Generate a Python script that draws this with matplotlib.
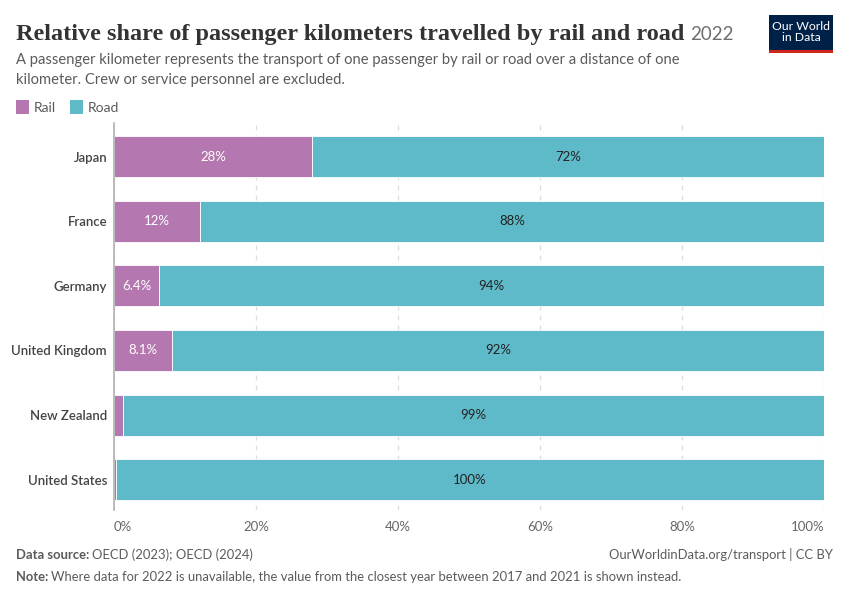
import matplotlib
matplotlib.use("Agg")
import matplotlib.pyplot as plt
from matplotlib.patches import Rectangle
from matplotlib.ticker import FuncFormatter

countries = ["Japan", "France", "Germany", "United Kingdom", "New Zealand", "United States"]
rail = [27.9, 12.1, 6.4, 8.1, 1.3, 0.3]
road = [72.1, 87.9, 93.6, 91.9, 98.7, 99.7]
xticks = [0, 20, 40, 60, 80, 100]

RAIL_C = "#b477af"
ROAD_C = "#5ebac8"
TXT = "#5b5b5b"

W, H = 850, 600
fig = plt.figure(figsize=(8.5, 6), dpi=100)

def fx(px): return px / W
def fy(py): return 1 - py / H

ax = fig.add_axes([fx(114), fy(510), fx(824) - fx(114), fy(123) - fy(510)])
ypos = list(range(len(countries)))
bh = 0.635
ax.barh(ypos, rail, height=bh, color=RAIL_C, edgecolor="white", linewidth=0.6, zorder=3)
ax.barh(ypos, road, left=rail, height=bh, color=ROAD_C, edgecolor="white", linewidth=0.6, zorder=3)

def fmt(v):
    if v < 9.95:
        return f"{v:.1f}%"
    return f"{round(v):d}%"

for i, (r, d) in enumerate(zip(rail, road)):
    if r >= 5:
        ax.text(r / 2, i, fmt(r), ha="center", va="center", color="white",
                fontsize=9.5, family="Lato", zorder=4)
    ax.text(r + d / 2, i, fmt(d), ha="center", va="center", color="#222222",
            fontsize=9.5, family="Lato", zorder=4)

ax.set_xlim(0, 100)
ax.set_ylim(5.47, -0.52)
ax.set_yticks(ypos)
ax.set_yticklabels(countries, family="Lato", fontsize=9.5, color="#444444", fontweight="semibold")
ax.set_xticks(xticks)
ax.xaxis.set_major_formatter(FuncFormatter(lambda v, p: f"{v:.0f}%"))
xl = ax.get_xticklabels()
for lab in xl:
    lab.set_family("Lato"); lab.set_fontsize(9.5); lab.set_color("#666666")
xl[0].set_horizontalalignment("left")
xl[-1].set_horizontalalignment("right")
ax.tick_params(axis="both", length=0)
ax.tick_params(axis="x", pad=8)
ax.tick_params(axis="y", pad=5)
ax.grid(axis="x", color="#dddddd", linestyle=(0, (4, 4)), linewidth=0.9, zorder=0)
for s in ["top", "right", "bottom"]:
    ax.spines[s].set_visible(False)
ax.spines["left"].set_color("#b0b0b0")
ax.spines["left"].set_linewidth(1.2)
ax.spines["left"].set_zorder(5)

# Title
t = fig.text(fx(16), fy(40), "Relative share of passenger kilometers travelled by rail and road",
             family="Liberation Serif", fontweight="bold", fontsize=17.5, color="#333333",
             va="baseline", ha="left")
fig.canvas.draw()
bb = t.get_window_extent(fig.canvas.get_renderer())
fig.text(bb.x1 / W + fx(6), fy(40), "2022", family="Lato", fontsize=13.5, color="#6e6e6e",
         va="baseline", ha="left")

fig.text(fx(16), fy(64), "A passenger kilometer represents the transport of one passenger by rail or road over a distance of one",
         family="Lato", fontsize=10.6, color=TXT, va="baseline")
fig.text(fx(16), fy(84), "kilometer. Crew or service personnel are excluded.",
         family="Lato", fontsize=10.6, color=TXT, va="baseline")

# Legend
fig.patches.append(Rectangle((fx(16), fy(114)), fx(13), fy(100) - fy(114), transform=fig.transFigure,
                             facecolor=RAIL_C, edgecolor="none"))
fig.text(fx(34), fy(107.5), "Rail", family="Lato", fontsize=10, color=TXT, va="center")
fig.patches.append(Rectangle((fx(70), fy(114)), fx(13), fy(100) - fy(114), transform=fig.transFigure,
                             facecolor=ROAD_C, edgecolor="none"))
fig.text(fx(88), fy(107.5), "Road", family="Lato", fontsize=10, color=TXT, va="center")

# Logo
fig.patches.append(Rectangle((fx(769), fy(52)), fx(64), fy(15) - fy(52), transform=fig.transFigure,
                             facecolor="#002147", edgecolor="none"))
fig.patches.append(Rectangle((fx(769), fy(53)), fx(64), fy(50) - fy(53), transform=fig.transFigure,
                             facecolor="#ce261e", edgecolor="none"))
fig.text(fx(801), fy(32), "Our World\nin Data", family="Lato", fontsize=8.8, color="white",
         ha="center", va="center", linespacing=1.0)

# Footer
FS = 9.4
t1 = fig.text(fx(16), fy(559), "Data source:", family="Lato", fontweight="bold", fontsize=FS,
              color=TXT, va="baseline")
fig.canvas.draw()
b1 = t1.get_window_extent(fig.canvas.get_renderer())
fig.text(b1.x1 / W + fx(3), fy(559), "OECD (2023); OECD (2024)", family="Lato", fontsize=FS,
         color=TXT, va="baseline")
fig.text(fx(833), fy(559), "OurWorldinData.org/transport | CC BY", family="Lato", fontsize=FS,
         color=TXT, va="baseline", ha="right")
t2 = fig.text(fx(16), fy(581), "Note:", family="Lato", fontweight="bold", fontsize=FS,
              color=TXT, va="baseline")
fig.canvas.draw()
b2 = t2.get_window_extent(fig.canvas.get_renderer())
fig.text(b2.x1 / W + fx(3), fy(581),
         "Where data for 2022 is unavailable, the value from the closest year between 2017 and 2021 is shown instead.",
         family="Lato", fontsize=FS, color=TXT, va="baseline")

fig.savefig("out.png", dpi=100, facecolor="white")
